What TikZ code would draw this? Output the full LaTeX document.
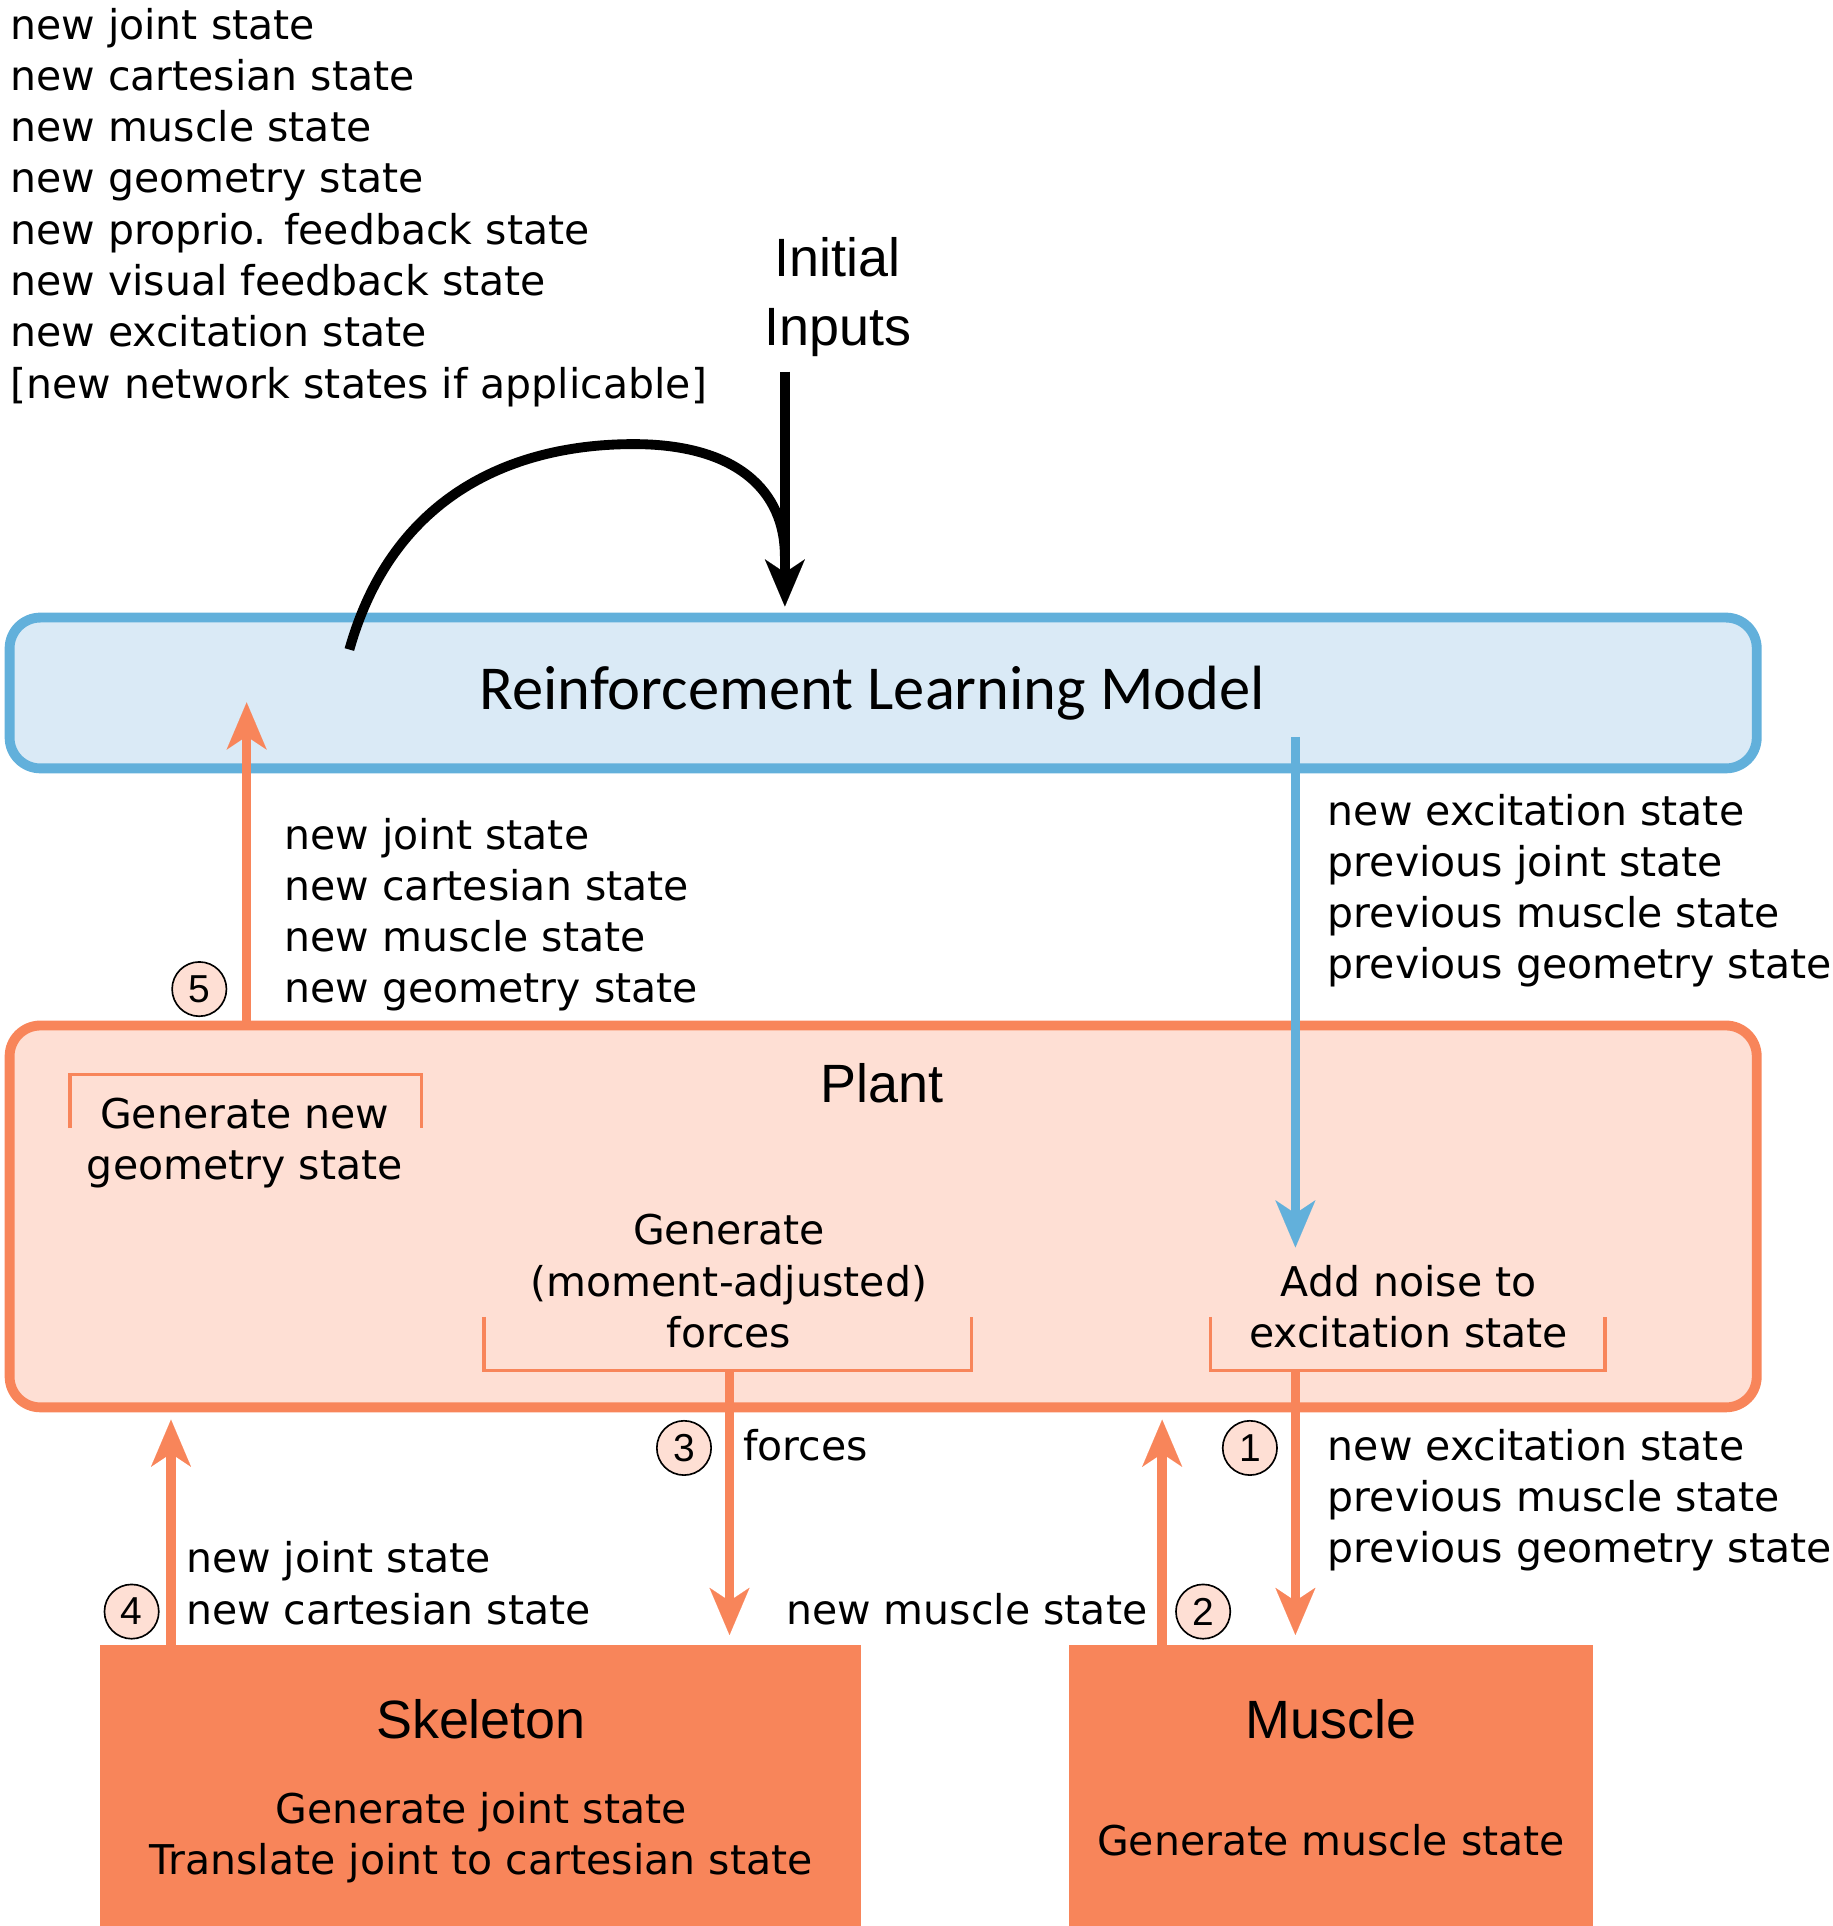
\documentclass[tikz,border=0pt]{standalone}
\usepackage{fontspec}
\setmainfont{DejaVu Sans}
\newfontfamily\arialf{Liberation Sans}
\newfontfamily\calibf{Carlito}
\usetikzlibrary{arrows.meta,fit}
\definecolor{orng}{RGB}{248,133,90}
\definecolor{peach}{RGB}{254,223,212}
\definecolor{bluel}{RGB}{98,176,219}
\definecolor{bluef}{RGB}{218,234,246}
\begin{document}
\begin{tikzpicture}[x=0.6pt,y=-0.6pt,
  lbl/.style={font=\fontsize{20pt}{25pt}\selectfont, inner sep=0pt, align=left, anchor=west},
  ctr/.style={font=\fontsize{20pt}{25pt}\selectfont, inner sep=0pt, align=center},
  ttl/.style={font=\arialf\fontsize{26.3pt}{33.4pt}\selectfont, inner sep=0pt},
  num/.style={circle, draw=black, line width=0.8pt, fill=peach, minimum size=26.5pt, inner sep=0pt, font=\arialf\fontsize{19pt}{19pt}\selectfont},
  tip/.style={-{Stealth[length=23pt,width=19.5pt,inset=6.5pt,line width=0.01pt]}},
  oarr/.style={draw=orng, line width=4.6pt, tip},
  barr/.style={draw=bluel, line width=4.6pt, tip},
  karr/.style={draw=black, line width=4.8pt, tip},
  brk/.style={draw=orng, line width=1.8pt}
]
\useasboundingbox (0,0) rectangle (1490,1565.6);

% boxes
\node[draw=bluel, fill=bluef, line width=4.8pt, rounded corners=15pt, inner sep=0pt, fit={(7.8,502) (1428,624.6)}] (rl) {};
\node[draw=orng, fill=peach, line width=4.8pt, rounded corners=15pt, inner sep=0pt, fit={(7.8,833.6) (1428,1144)}] (plant) {};
\node[fill=orng, inner sep=0pt, outer sep=0pt, fit={(81,1337) (700,1566)}] (skel) {};
\node[fill=orng, inner sep=0pt, outer sep=0pt, fit={(869,1337) (1295,1566)}] (musc) {};

% brackets
\draw[brk] (57,917) -- (57,873.4) -- (342.5,873.4) -- (342.5,917);
\draw[brk] (393.6,1070.5) -- (393.6,1114) -- (789.6,1114) -- (789.6,1070.5);
\draw[brk] (984,1070.5) -- (984,1114) -- (1304.7,1114) -- (1304.7,1070.5);

% connector end points
\coordinate (fb) at (593,1114);
\coordinate (ft) at (593,1329);
\coordinate (nb) at (1053,1114);
\coordinate (nt) at (1053,1329);
\coordinate (a2t) at (944.7,1154);
\coordinate (a4t) at (139,1154);
\coordinate (a5t) at (200.5,571);
\coordinate (bls) at (1053,599);
\coordinate (blt) at (1053,1014);
\coordinate (ks) at (638,302);
\coordinate (kt) at (638,493);
\coordinate (cs) at (284,528);
\coordinate (cm) at (515,361);
\coordinate (ce) at (638,452);

% titles
\node[font=\calibf\fontsize{30.5pt}{36pt}\selectfont, anchor=base, inner sep=0pt] (rlt) at (709,577) {Reinforcement Learning Model};
\node[ttl, anchor=base] (plantt) at (717,896) {Plant};
\node[ttl, anchor=base] (skelt) at (391,1413) {Skeleton};
\node[ttl, anchor=base] (musct) at (1082,1413) {Muscle};
\node[ttl, align=center] (init) at (681,241.3) {Initial\\Inputs};

% connectors
\draw[oarr] (fb) -- (ft);
\draw[oarr] (nb) -- (nt);
\draw[oarr] (a2t |- musc.north) -- (a2t);
\draw[oarr] (a4t |- skel.north) -- (a4t);
\draw[oarr] (a5t |- plant.north) -- (a5t);
\draw[barr] (bls) -- (blt);
\draw[karr] (ks) -- (kt);
\draw[draw=black, line width=4.8pt] (cs) .. controls (320,400) and (420,361) .. (cm) .. controls (600,361) and (638,400) .. (ce);

% labels
\node[lbl] (tl) at (8,168.5) {new joint state\\new cartesian state\\new muscle state\\new geometry state\\new proprio. feedback state\\new visual feedback state\\new excitation state\\{[}new network states if applicable{]}};
\node[lbl] (l5) at (231,743.5) {new joint state\\new cartesian state\\new muscle state\\new geometry state};
\node[lbl] (lb) at (1079,724) {new excitation state\\previous joint state\\previous muscle state\\previous geometry state};
\node[lbl] (lf) at (604,1175) {forces};
\node[lbl] (l1) at (1079,1219.5) {new excitation state\\previous muscle state\\previous geometry state};
\node[lbl] (l4) at (151,1287) {new joint state\\new cartesian state};
\node[lbl, anchor=east] (l2) at (933,1308) {new muscle state};

\node[ctr] (gg) at (199,929) {Generate new\\geometry state};
\node[ctr] (gf) at (592.5,1041.5) {Generate\\(moment-adjusted)\\forces};
\node[ctr] (an) at (1145,1062) {Add noise to\\excitation state};
\node[ctr] (sk) at (391,1494) {Generate joint state\\Translate joint to cartesian state};
\node[ctr] (mg) at (1082,1496) {Generate muscle state};

% step numbers
\node[num] (c5) at (162,804) {5};
\node[num] (c3) at (556,1177) {3};
\node[num] (c1) at (1016,1177) {1};
\node[num] (c4) at (107,1310) {4};
\node[num] (c2) at (978,1310) {2};
\end{tikzpicture}
\end{document}
